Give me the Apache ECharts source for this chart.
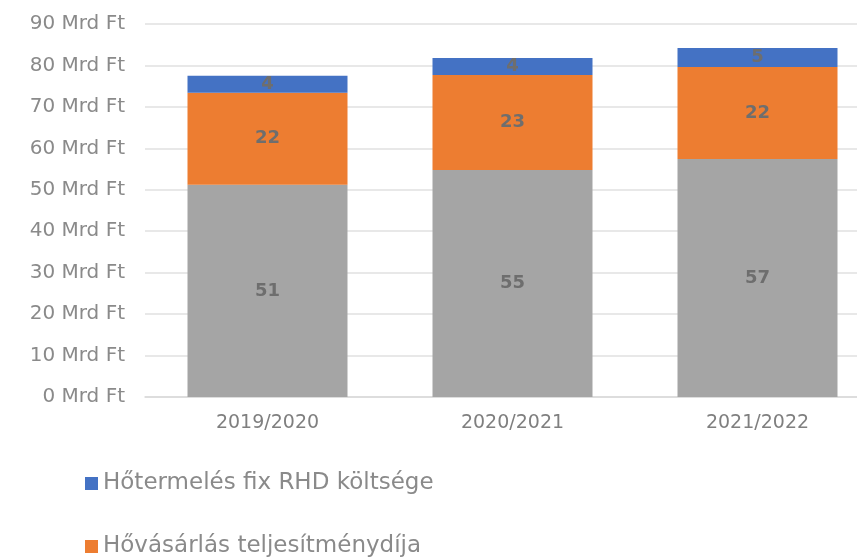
<!DOCTYPE html>
<html><head><meta charset="utf-8">
<script src="https://cdn.jsdelivr.net/npm/echarts@6/dist/echarts.min.js"></script>
<style>html,body{margin:0;padding:0;background:#fff}#c{width:857px;height:557px}</style>
</head><body><div id="c"></div>
<script>
const categories = ['2019/2020', '2020/2021', '2021/2022'];
const seriesNames = ['Hőtermelés fix RHD költsége', 'Hővásárlás teljesítménydíja', 'Hőtermelés változó költsége'];
const greyValues = [51.2, 54.8, 57.4];
const orangeValues = [22.2, 22.9, 22.2];
const blueValues = [4.1, 4.1, 4.6];
const yTicks = [0, 10, 20, 30, 40, 50, 60, 70, 80, 90];

const font = 'DejaVu Sans';
const lbl = {show: true, position: 'inside', color: '#6e6e6e', fontWeight: 'bold', fontSize: 18, fontFamily: font,
  formatter: p => Math.round(p.value)};
const legTxt = {color: '#8a8a8a', fontSize: 23, fontFamily: font};
const chart = echarts.init(document.getElementById('c'));
chart.setOption({
  animation: false,
  grid: {left: 145, top: 24, right: -23, bottom: 160, outerBoundsMode: 'none', containLabel: false},
  legend: [
    {left: 80, top: 467, itemWidth: 13, itemHeight: 13, icon: 'rect', data: [seriesNames[0]], textStyle: legTxt},
    {left: 80, top: 530, itemWidth: 13, itemHeight: 13, icon: 'rect', data: [seriesNames[1]], textStyle: legTxt}
  ],
  xAxis: {type: 'category', data: categories,
    axisLine: {lineStyle: {color: '#d9d9d9', width: 1.5}}, axisTick: {show: false},
    axisLabel: {color: '#7f7f7f', fontSize: 19, fontFamily: font, margin: 17}},
  yAxis: {type: 'value', min: 0, max: 90, interval: 10,
    axisLabel: {color: '#8a8a8a', fontSize: 20, fontFamily: font, margin: 20, formatter: v => yTicks.includes(v) ? v + ' Mrd Ft' : ''},
    splitLine: {lineStyle: {color: '#e0e0e0', width: 1.5}}},
  series: [
    {name: seriesNames[2], type: 'bar', stack: 's', data: greyValues, barWidth: 160, itemStyle: {color: '#a5a5a5'}, label: lbl},
    {name: seriesNames[1], type: 'bar', stack: 's', data: orangeValues, itemStyle: {color: '#ed7d31'}, label: lbl},
    {name: seriesNames[0], type: 'bar', stack: 's', data: blueValues, itemStyle: {color: '#4472c4'}, label: lbl}
  ]
});
</script></body></html>
